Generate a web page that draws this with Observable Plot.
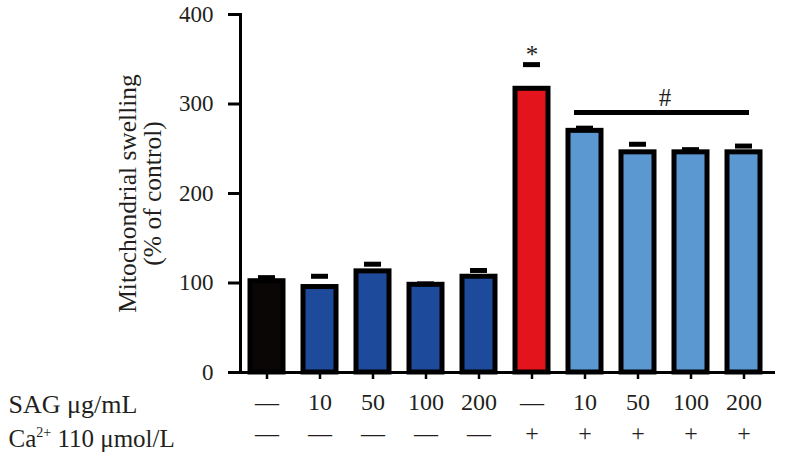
<!DOCTYPE html>
<html>
<head>
<meta charset="utf-8">
<script src="https://cdn.jsdelivr.net/npm/d3@7"></script>
<script src="https://cdn.jsdelivr.net/npm/@observablehq/plot@0.6"></script>
<style>
  html, body { margin: 0; padding: 0; background: #fff; }
</style>
</head>
<body>
<div id="chart"></div>
<script>
// ---- data ----
const sagLabels = ["—", "10", "50", "100", "200", "—", "10", "50", "100", "200"];
const caLabels  = ["—", "—", "—", "—", "—", "+", "+", "+", "+", "+"];
const values    = [102, 95.5, 113, 98, 107, 317, 270, 246, 246, 246];
const errors    = [4, 12, 8, 1, 7, 27, 3, 9, 3, 7];
const colors    = ["#0b0606", "#1e4a9b", "#1e4a9b", "#1e4a9b", "#1e4a9b",
                   "#e3141b", "#5b97d0", "#5b97d0", "#5b97d0", "#5b97d0"];
const yTicks    = [0, 100, 200, 300, 400];
const rowLabels = ["SAG μg/mL", "Ca²⁺ 110 μmol/L"];
const sigLine   = [{from: 6, to: 9, y: 290.5}];
const sigStar   = [{i: 5, y: 346, label: "*"}];
const sigHash   = [{i: 7, y: 298, label: "#"}];
const yTitle    = ["Mitochondrial swelling\n(% of control)"];

const data = values.map((v, i) => ({i, value: v, err: errors[i], color: colors[i]}));
const serif = "'Liberation Serif', 'Times New Roman', Times, serif";
const ink = "#231f20";

const chart = Plot.plot({
  width: 785,
  height: 466,
  marginLeft: 240,
  marginRight: 15,
  marginTop: 14,
  marginBottom: 94,
  style: {fontFamily: serif, fontSize: "23px", color: ink, background: "#fff", overflow: "visible"},
  x: {type: "band", domain: d3.range(10), paddingInner: 0.368, paddingOuter: 0.1, axis: null},
  y: {domain: [0, 400], axis: null},
  color: {type: "identity"},
  marks: [
    Plot.barY(data, {x: "i", y: "value", fill: "color", stroke: "#000", strokeWidth: 5}),
    Plot.tickY(data, {x: "i", y: d => d.value + d.err, stroke: "#000", strokeWidth: 5, insetLeft: 8, insetRight: 8}),
    Plot.ruleY([0], {stroke: "#000", strokeWidth: 3, insetRight: -5}),
    Plot.frame({anchor: "left", stroke: "#000", strokeWidth: 3}),
    Plot.axisY({ticks: yTicks, tickSize: 12, tickPadding: 15, strokeWidth: 3, stroke: "#000", label: null, fontSize: 23}),
    Plot.axisX({tickFormat: i => sagLabels[i], tickSize: 7, tickPadding: 13, strokeWidth: 2.5, stroke: "#000", label: null, fontSize: 24}),
    Plot.axisX({tickFormat: i => caLabels[i], tickSize: 0, tickPadding: 51, label: null, fontSize: 24}),
    Plot.ruleY(sigLine, {x1: "from", x2: "to", y: "y", stroke: "#000", strokeWidth: 5, insetLeft: 6, insetRight: 11}),
    Plot.text(sigStar, {x: "i", y: "y", text: "label", lineAnchor: "bottom", fontSize: 25, fill: ink}),
    Plot.text(sigHash, {x: "i", y: "y", text: "label", lineAnchor: "bottom", fontSize: 25, fill: ink, dx: 27}),
    Plot.text(yTitle, {frameAnchor: "left", textAnchor: "middle", rotate: -90, dx: -100, fontSize: 25.5, lineHeight: 1.0, fill: ink}),
    Plot.text([rowLabels[0]], {frameAnchor: "bottom-left", textAnchor: "start", lineAnchor: "bottom", dx: -232, dy: 40, fontSize: 26, fill: ink}),
    Plot.text([rowLabels[1]], {frameAnchor: "bottom-left", textAnchor: "start", lineAnchor: "bottom", dx: -232, dy: 74, fontSize: 25, fill: ink})
  ]
});

document.getElementById("chart").appendChild(chart);

// superscript for Ca2+
d3.select(chart).selectAll("text").each(function() {
  const t = this.textContent;
  if (t.startsWith("Ca²⁺")) {
    const el = d3.select(this);
    el.text("");
    el.append("tspan").text("Ca");
    el.append("tspan").attr("dy", "-10").attr("font-size", "14").text("2+");
    el.append("tspan").attr("dy", "10").text(" 110 μmol/L");
  }
});
</script>
</body>
</html>
